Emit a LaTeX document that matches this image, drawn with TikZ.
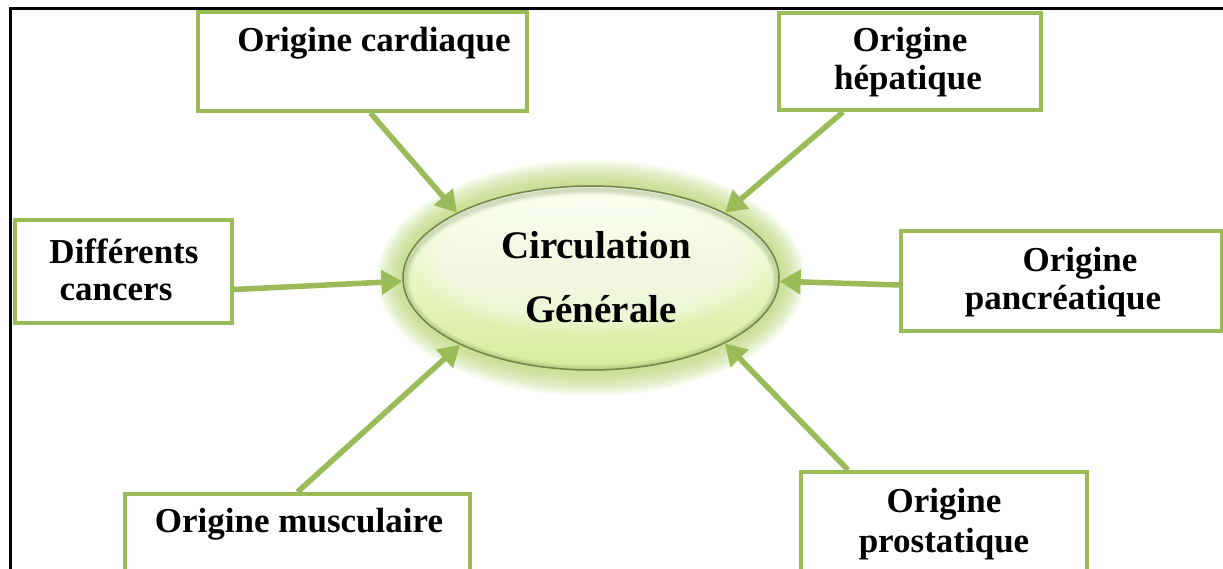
\documentclass[tikz,border=0pt]{standalone}
\usepackage{fontspec}
\setmainfont{Liberation Serif}
\usetikzlibrary{shapes.geometric,arrows.meta}
\definecolor{ogreen}{RGB}{155,187,89}
\definecolor{glowgreen}{RGB}{185,215,110}
\definecolor{elltop}{RGB}{252,255,238}
\definecolor{ellbot}{RGB}{214,236,155}
\definecolor{elledge}{RGB}{110,135,75}
\tikzset{
  box/.style={draw=ogreen, line width=4pt, fill=white, inner sep=0pt},
  lbl/.style={font=\fontsize{35}{40}\selectfont\bfseries, inner sep=0pt},
  biglbl/.style={font=\fontsize{39}{44}\selectfont\bfseries, inner sep=0pt},
  arr/.style={draw=ogreen, line width=5.5pt, -{Triangle[length=21pt,width=24pt]}},
  ellbox/.style={ellipse, minimum width=376pt, minimum height=184pt, inner sep=0pt,
     top color=elltop, bottom color=ellbot, draw=elledge, line width=1.5pt}
}
\begin{document}
\begin{tikzpicture}[x=1pt,y=-1pt]
\useasboundingbox (0,0) rectangle (1223,569);
\clip (0,0) rectangle (1223,569);
\fill[white] (0,0) rectangle (1223,569);
% frame
\draw[line width=3pt] (10,600) -- (10,9) -- (1240,9);
% glow
\foreach \r in {26,24,...,2}{
  \fill[glowgreen, opacity=0.09] (591,278) ellipse [x radius={188pt+\r pt}, y radius={92pt+\r pt}];
}
% central ellipse
\node[ellbox] (ell) at (591,278) {};
% bevel shading along the rim and soft highlight
\begin{scope}
  \clip (591,278) ellipse [x radius=188pt, y radius=92pt];
  \foreach \w/\o in {10/0.08,7/0.1,4/0.14}{
    \draw[elledge, line width=\w pt, opacity=\o] (591,280) ellipse [x radius=186pt, y radius=90pt];
  }
  \foreach \d in {0,6,...,30}{
    \fill[white, opacity=0.1] (591,262) ellipse [x radius={176pt-\d pt}, y radius={72pt-\d pt*0.5}];
  }
\end{scope}
\node[biglbl] (ellT1) at (596,245) {Circulation};
\node[biglbl] (ellT2) at (601,309) {Générale};
% boxes
\node[box, minimum width=329pt, minimum height=99pt] (card) at (362.5,61.5) {};
\node[lbl] (cardT) at (374,43) {Origine cardiaque};
\node[box, minimum width=262pt, minimum height=97pt] (hep) at (910,61.5) {};
\node[lbl] (hepT1) at (910,43) {Origine};
\node[lbl] (hepT2) at (908,81) {hépatique};
\node[box, minimum width=217pt, minimum height=103pt] (canc) at (123.5,271.5) {};
\node[lbl] (cancT1) at (124,251) {Différents};
\node[lbl] (cancT2) at (116,292) {cancers};
\node[box, minimum width=321pt, minimum height=100pt] (panc) at (1061.5,281) {};
\node[lbl] (pancT1) at (1080,263) {Origine};
\node[lbl] (pancT2) at (1063,301) {pancréatique};
\node[box, minimum width=345pt, minimum height=110pt] (musc) at (297.5,549) {};
\node[lbl] (muscT) at (299,524) {Origine musculaire};
\node[box, minimum width=286pt, minimum height=120pt] (pros) at (944,532) {};
\node[lbl] (prosT1) at (944,504) {Origine};
\node[lbl] (prosT2) at (944,544) {prostatique};
% arrows
\draw[arr] ([xshift=8pt]card.south) -- (ell.154);
\draw[arr] ([xshift=-67pt]hep.south) -- (ell.26);
\draw[arr] ([yshift=-18pt]canc.east) -- (ell.181);
\draw[arr] ([yshift=-4pt]panc.west) -- (ell.359);
\draw[arr] (musc.north) -- (ell.207);
\draw[arr] ([xshift=-96pt]pros.north) -- (ell.334);
\end{tikzpicture}
\end{document}
